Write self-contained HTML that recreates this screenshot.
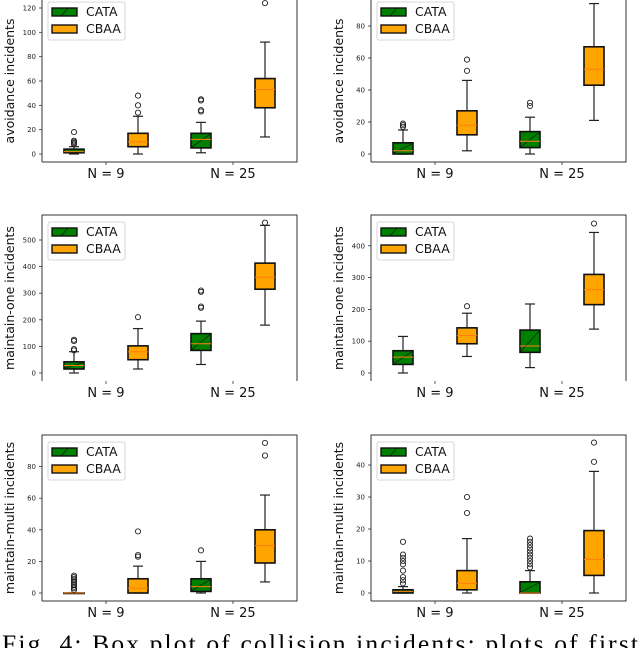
<!DOCTYPE html>
<html><head><meta charset="utf-8"><style>
html,body{margin:0;padding:0;background:#fff;width:640px;height:648px;overflow:hidden}
svg{display:block}
</style></head><body>
<svg id="fig" width="640" height="648" viewBox="0 0 640 648" xmlns="http://www.w3.org/2000/svg" font-family="'DejaVu Sans','Liberation Sans',sans-serif">
<text x="2" y="652" font-family="'Liberation Serif',serif" font-size="25.5" textLength="636" lengthAdjust="spacing">Fig. 4: Box plot of collision incidents: plots of first</text>
</svg>
<script>
const groups = ["N = 9", "N = 25"];
const seriesNames = ["CATA", "CBAA"];
// each box: [whislo, q1, median, q3, whishi]
const p1Boxes = [[0,1,2,4,6],[0,6,10,17,31],[1,5,12,17,26],[14,38,53,62,92]];
const p1Out = [[8,9,10,11,18],[34,40,48],[35,36,44,45],[124]];
const p2Boxes = [[0,0,2,7,15],[2,12,18,27,46],[0,4,8,14,23],[21,43,53,67,94]];
const p2Out = [[17,18,19],[52,59],[30,32],[]];
const p3Boxes = [[0,15,28,42,80],[15,50,80,102,167],[32,85,110,148,195],[180,315,360,413,555]];
const p3Out = [[85,90,120,125],[210],[245,250,305,310],[565]];
const p4Boxes = [[0,27,50,70,115],[52,92,118,142,188],[17,65,85,135,217],[138,215,262,310,442]];
const p4Out = [[],[210],[],[470]];
const p5Boxes = [[0,0,0,0,0],[0,0,3,9,17],[0,1,4,9,20],[7,19,30,40,62]];
const p5Out = [[2,3,4,5,6,7,8,9,10,11],[23,24,39],[27],[87,95]];
const p6Boxes = [[0,0,0.5,1,2],[0,1,3,7,17],[0,0,0,3.5,7],[0,5.5,10.5,19.5,38]];
const p6Out = [[3,4,5,7,9,10,11,12,16],[25,30],[8,9,10,11,12,13,14,15,16,17],[41,47]];
const p1Ticks = [0,20,40,60,80,100,120];
const p2Ticks = [0,20,40,60,80];
const p3Ticks = [0,100,200,300,400,500];
const p4Ticks = [0,100,200,300,400];
const p5Ticks = [0,20,40,60,80];
const p6Ticks = [0,10,20,30,40];

const NS="http://www.w3.org/2000/svg";
const svg=document.getElementById('fig');
function mk(tag,attrs,parent){const e=document.createElementNS(NS,tag);for(const k in attrs)e.setAttribute(k,attrs[k]);(parent||svg).appendChild(e);return e;}

const panels=[
 {name:'avoidance-left',L:42,R:297,T:-4,B:162,y0:154,ppu:146/120,boxes:p1Boxes,out:p1Out,ticks:p1Ticks,title:'avoidance incidents',bottom:true,legT:2},
 {name:'avoidance-right',L:371,R:626,T:-4,B:162,y0:154,ppu:1.6,boxes:p2Boxes,out:p2Out,ticks:p2Ticks,title:'avoidance incidents',bottom:true,legT:2},
 {name:'maintain-one-left',L:42,R:297,T:215,B:381,y0:373,ppu:0.266,boxes:p3Boxes,out:p3Out,ticks:p3Ticks,title:'maintain-one incidents',bottom:false,legT:222},
 {name:'maintain-one-right',L:371,R:626,T:215,B:381,y0:373,ppu:0.318,boxes:p4Boxes,out:p4Out,ticks:p4Ticks,title:'maintain-one incidents',bottom:false,legT:222},
 {name:'maintain-multi-left',L:42,R:297,T:435,B:601,y0:593,ppu:1.58,boxes:p5Boxes,out:p5Out,ticks:p5Ticks,title:'maintain-multi incidents',bottom:true,legT:442},
 {name:'maintain-multi-right',L:371,R:626,T:435,B:601,y0:593,ppu:3.2,boxes:p6Boxes,out:p6Out,ticks:p6Ticks,title:'maintain-multi incidents',bottom:true,legT:442}
];
const fills=['#008000','#ffa500'];

panels.forEach(p=>{
 const g=mk('g',{});
 
 
 const y=v=>p.y0-v*p.ppu;
 const gc=[p.L+64,p.L+191];
 const ax=mk('path',{d:`M${p.L},${p.B} L${p.L},${p.T} L${p.R},${p.T} L${p.R},${p.B}`+(p.bottom?` L${p.L},${p.B}`:''),fill:'none',stroke:'#333','stroke-width':1},g);
 
 
 p.ticks.forEach(t=>{
  const yy=y(t);
  mk('line',{x1:p.L-3,x2:p.L,y1:yy,y2:yy,stroke:'#333','stroke-width':0.8},g);
  const tx=mk('text',{x:p.L-6,y:yy+2.5,'font-size':7,'text-anchor':'end',fill:'#222'},g);
  tx.textContent=t;
  
  
 });
 groups.forEach((lab,i)=>{
  mk('line',{x1:gc[i],x2:gc[i],y1:p.B,y2:p.B+3,stroke:'#333','stroke-width':0.8},g);
  const tx=mk('text',{x:gc[i],y:p.B+16,'font-size':13,'text-anchor':'middle',fill:'#111'},g);
  tx.textContent=lab;
  
  
 });
 const cy=(Math.max(p.T,0)+p.B)/2;
 const yt=mk('text',{x:0,y:0,'font-size':12.5,'text-anchor':'middle',fill:'#111',transform:`translate(${p.L-28},${cy}) rotate(-90)`},g);
 yt.textContent=p.title;
 
 
 p.boxes.forEach((b,k)=>{
  const s=k%2, grp=Math.floor(k/2);
  const cx=gc[grp]+(s?32:-32), w=20;
  const bg=mk('g',{},g);
  
  
  mk('line',{x1:cx,x2:cx,y1:y(b[0]),y2:y(b[1]),stroke:'#222','stroke-width':1.2},bg);
  mk('line',{x1:cx,x2:cx,y1:y(b[3]),y2:y(b[4]),stroke:'#222','stroke-width':1.2},bg);
  mk('line',{x1:cx-5,x2:cx+5,y1:y(b[0]),y2:y(b[0]),stroke:'#222','stroke-width':1.2},bg);
  mk('line',{x1:cx-5,x2:cx+5,y1:y(b[4]),y2:y(b[4]),stroke:'#222','stroke-width':1.2},bg);
  const top=y(b[3]),bot=y(b[1]);
  mk('rect',{x:cx-w/2,y:top,width:w,height:Math.max(bot-top,0.5),fill:fills[s],stroke:'#111','stroke-width':1.6},bg);
  if(s===0&&bot-top>4){mk('line',{x1:cx-w/2+1,y1:bot-1,x2:cx+w/2-1,y2:top+1,stroke:'#111','stroke-width':0.7},bg);}
  mk('line',{x1:cx-w/2,x2:cx+w/2,y1:y(b[2]),y2:y(b[2]),stroke:'#ff7f0e','stroke-width':1},bg);
  p.out[k].forEach(o=>{
   const c=mk('circle',{cx:cx,cy:y(o),r:2.6,fill:'none',stroke:'#222','stroke-width':0.9},bg);
   
   
  });
 });
 const lg=mk('g',{},g);
 
 
 const lx=p.L+6, lt=p.legT;
 mk('rect',{x:lx,y:lt,width:77,height:38,rx:2,fill:'#fff',stroke:'#ccc','stroke-width':0.8},lg);
 seriesNames.forEach((n,i)=>{
  const ry=lt+6+i*17;
  const e=mk('g',{},lg);
  
  
  mk('rect',{x:lx+4,y:ry,width:25,height:8,fill:fills[i],stroke:'#111','stroke-width':1.4},e);
  if(i===0)mk('line',{x1:lx+13,y1:ry+8,x2:lx+20,y2:ry,stroke:'#111','stroke-width':0.7},e);
  const t=mk('text',{x:lx+38,y:ry+8,'font-size':12.5,fill:'#111'},e);
  t.textContent=n;
 });
});
</script>
</body></html>
